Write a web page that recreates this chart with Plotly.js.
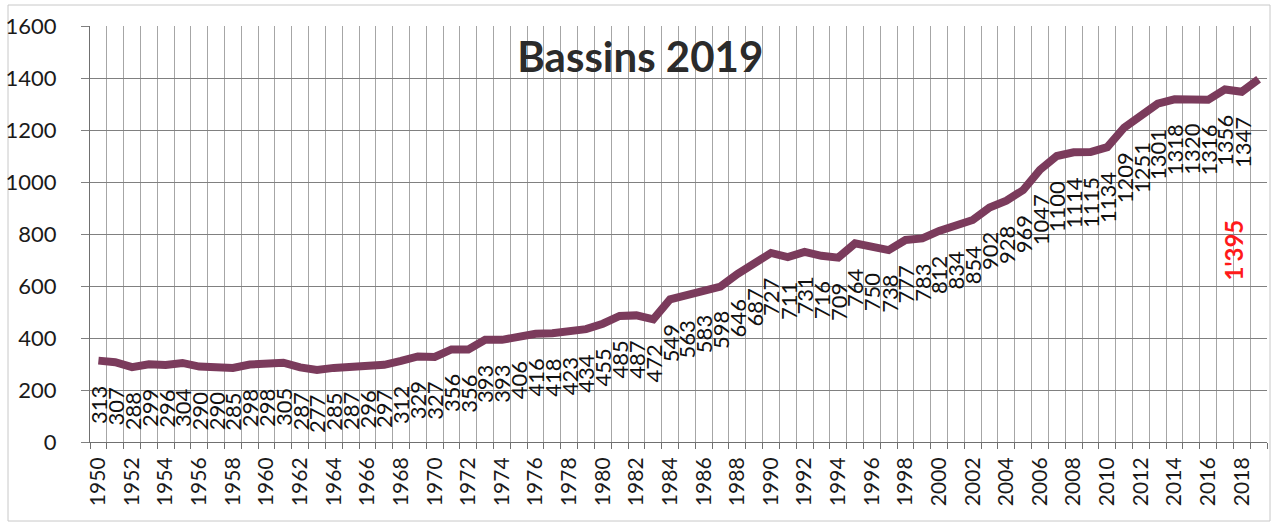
<!DOCTYPE html>
<html>
<head>
<meta charset="utf-8">
<script src="https://cdn.plot.ly/plotly-3.0.1.min.js"></script>
<style>
  html, body { margin: 0; padding: 0; background: #ffffff; }
  #chart { width: 1273px; height: 524px; }
</style>
</head>
<body>
<div id="chart"></div>
<script>
// ---- data ----
const years = [
  1950, 1951, 1952, 1953, 1954, 1955, 1956, 1957, 1958, 1959,
  1960, 1961, 1962, 1963, 1964, 1965, 1966, 1967, 1968, 1969,
  1970, 1971, 1972, 1973, 1974, 1975, 1976, 1977, 1978, 1979,
  1980, 1981, 1982, 1983, 1984, 1985, 1986, 1987, 1988, 1989,
  1990, 1991, 1992, 1993, 1994, 1995, 1996, 1997, 1998, 1999,
  2000, 2001, 2002, 2003, 2004, 2005, 2006, 2007, 2008, 2009,
  2010, 2011, 2012, 2013, 2014, 2015, 2016, 2017, 2018, 2019
];
const bassins = [
  313, 307, 288, 299, 296, 304, 290, 290, 285, 298,
  298, 305, 287, 277, 285, 287, 296, 297, 312, 329,
  327, 356, 356, 393, 393, 406, 416, 418, 423, 434,
  455, 485, 487, 472, 549, 563, 583, 598, 646, 687,
  727, 711, 731, 716, 709, 764, 750, 738, 777, 783,
  812, 834, 854, 902, 928, 969, 1047, 1100, 1114, 1115,
  1134, 1209, 1251, 1301, 1318, 1320, 1316, 1356, 1347, 1395
];
const chartTitle = "Bassins 2019";
const lastLabelText = "1'395";
const lastLabelYear = 2019;

// ---- styling ----
const FONT = "Lato, 'Open Sans', sans-serif";
const lineColor = "#7b3b5c";

const annotations = [];
for (let i = 0; i < years.length - 1; i++) {
  annotations.push({
    x: years[i], y: bassins[i], xref: "x", yref: "y",
    text: String(bassins[i]), showarrow: false,
    textangle: -90, xanchor: "center", yanchor: "top", yshift: -23,
    font: { family: FONT, size: 22, color: "#111111" }
  });
}
// highlighted final value (red)
annotations.push({
  x: lastLabelYear - 1.5, y: 738, xref: "x", yref: "y",
  text: "<b>" + lastLabelText + "</b>", showarrow: false,
  textangle: -90, xanchor: "center", yanchor: "middle",
  font: { family: FONT, size: 24, color: "#ff1a1a" }
});

const trace = {
  x: years, y: bassins, type: "scatter", mode: "lines",
  line: { color: lineColor, width: 8 },
  hoverinfo: "x+y"
};

const layout = {
  width: 1273, height: 524,
  margin: { l: 90, r: 6, t: 26, b: 82 },
  paper_bgcolor: "#ffffff", plot_bgcolor: "#ffffff",
  showlegend: false,
  title: {
    text: "<b>" + chartTitle + "</b>",
    font: { family: FONT, size: 42, color: "#2b2b2b" },
    x: 0.503, xanchor: "center", xref: "container",
    y: 0.89, yanchor: "middle", yref: "container"
  },
  xaxis: {
    range: [1949.5, 2019.5],
    tickmode: "linear", tick0: 1950, dtick: 2,
    tickangle: -90,
    tickfont: { family: FONT, size: 21, color: "#1a1a1a" },
    ticks: "", showgrid: false, zeroline: false,
    showline: true, linecolor: "#707070", linewidth: 1,
    ticklabelstandoff: 6,
    minor: {
      tick0: 1949.5, dtick: 1, ticks: "outside", ticklen: 6,
      tickcolor: "#707070", showgrid: true, gridcolor: "#a6a6a6", gridwidth: 1
    }
  },
  yaxis: {
    range: [0, 1600], dtick: 200, tick0: 0,
    tickfont: { family: FONT, size: 22, color: "#1a1a1a" },
    ticks: "outside", ticklen: 8, tickcolor: "#808080",
    showgrid: true, gridcolor: "#808080", gridwidth: 1,
    zeroline: false, showline: true, linecolor: "#707070", linewidth: 1,
    ticklabelstandoff: 20
  },
  annotations: annotations,
  shapes: [{
    type: "rect", xref: "paper", yref: "paper",
    x0: (8 - 90) / 1177, x1: (1270 - 90) / 1177,
    y0: (442 - 521) / 416, y1: (442 - 5) / 416,
    line: { color: "#c8c8c8", width: 1 }, fillcolor: "rgba(0,0,0,0)",
    layer: "below"
  }]
};

Plotly.newPlot("chart", [trace], layout, { staticPlot: true, displayModeBar: false });
</script>
</body>
</html>
